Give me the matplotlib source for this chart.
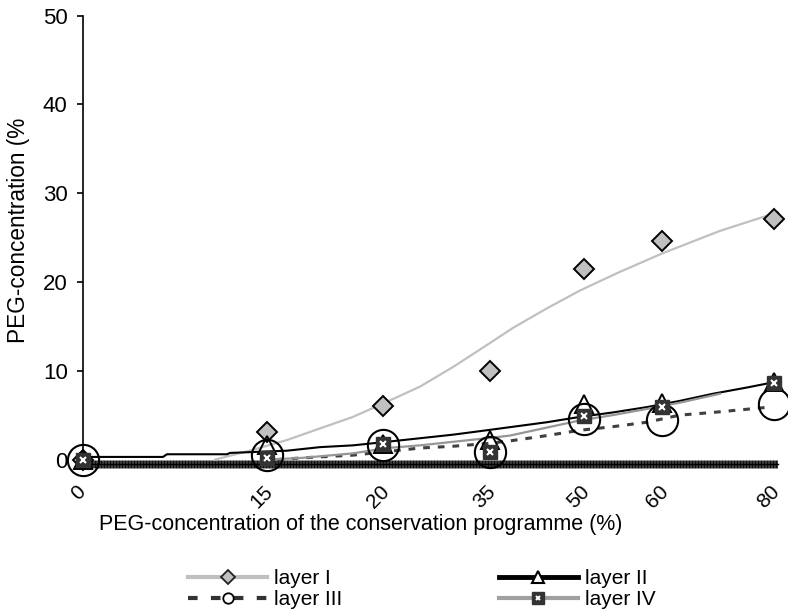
import matplotlib
matplotlib.use("Agg")
import matplotlib.pyplot as plt
from matplotlib.lines import Line2D
from matplotlib.ticker import MultipleLocator
from matplotlib.transforms import ScaledTranslation

plt.rcParams['font.family'] = ['Liberation Sans', 'DejaVu Sans']

# x positions of the programme steps on the (uneven) axis, and their labels
x_pos = [0, 184, 300, 407, 501, 579, 691]
x_labels = ['0', '15', '20', '35', '50', '60', '80']

# measured values (%)
layer_1 = [0, 3.2, 6.1, 10.0, 21.5, 24.7, 27.1]
layer_2 = [0, 1.7, 1.8, 2.3, 6.3, 6.5, 8.8]
layer_3 = [0, 0.6, 1.7, 0.9, 4.7, 4.5, 6.4]
layer_4 = [0, 0.3, 1.9, 0.9, 5.0, 6.0, 8.7]

# trend lines
trend1_x = [132, 170, 204, 237, 270, 304, 337, 370, 407, 430, 464, 497, 537, 580, 637, 695]
trend1_y = [0.1, 1.2, 2.3, 3.6, 4.9, 6.6, 8.3, 10.5, 13.2, 14.9, 17.1, 19.1, 21.2, 23.3, 25.8, 27.9]
trend2_x = [2, 80, 84, 144, 147, 204, 237, 270, 304, 337, 370, 404, 464, 497, 530, 564, 597, 630, 664, 691]
trend2_y = [0.4, 0.4, 0.7, 0.7, 0.85, 1.1, 1.5, 1.7, 2.1, 2.5, 2.9, 3.4, 4.3, 4.9, 5.4, 6.0, 6.7, 7.5, 8.2, 8.8]
trend3_x = [194, 220, 270, 304, 337, 370, 404, 427, 464, 497, 530, 564, 597, 630, 687]
trend3_y = [0.1, 0.3, 0.6, 1.0, 1.4, 1.6, 1.9, 2.2, 2.8, 3.4, 3.8, 4.3, 5.1, 5.4, 6.0]
trend4_x = [184, 220, 270, 304, 337, 370, 404, 427, 464, 497, 530, 564, 597, 637]
trend4_y = [0.1, 0.3, 0.8, 1.4, 1.7, 2.1, 2.5, 2.8, 3.7, 4.5, 5.1, 5.8, 6.5, 7.5]

fig = plt.figure(figsize=(7.88, 6.10), dpi=100)
ax = fig.add_axes([83 / 788, 1 - 463.6 / 610, 695 / 788, 448.1 / 610])

ax.plot(trend1_x, trend1_y, color='#c0c0c0', lw=1.6, zorder=2, clip_on=False)
ax.plot(trend2_x, trend2_y, color='black', lw=1.5, zorder=2, clip_on=False)
ax.plot(trend3_x, trend3_y, color='#404040', lw=2.2, dashes=(2.2, 2.6), zorder=2, clip_on=False)
ax.plot(trend4_x, trend4_y, color='#969696', lw=1.6, zorder=2, clip_on=False)

ax.plot(x_pos, layer_1, ls='none', marker='D', ms=10, mfc='#c0c0c0', mec='black', mew=1.4,
        zorder=4, clip_on=False)
ax.plot(x_pos, layer_2, ls='none', marker='^', ms=13, mfc='none', mec='black', mew=1.4,
        zorder=4, clip_on=False)
ax.plot(x_pos, layer_3, ls='none', marker='o', ms=22.5, mfc='none', mec='black', mew=1.5,
        zorder=4, clip_on=False)
ax.plot(x_pos, layer_4, ls='none', marker='s', ms=10, mfc='#333333', mec='#333333',
        zorder=5, clip_on=False)
ax.plot(x_pos, layer_4, ls='none', marker='x', ms=4, mec='white', mew=1.5,
        zorder=6, clip_on=False)

ax.set_xlim(0, 695)
ax.set_ylim(-0.35, 50)
ax.set_yticks(range(0, 51, 10))
ax.set_xticks(x_pos)
ax.set_xticklabels(x_labels, rotation=45, ha='center', va='top')
ax.xaxis.set_minor_locator(MultipleLocator(3))
ax.xaxis.remove_overlapping_locs = False

ax.spines['top'].set_visible(False)
ax.spines['right'].set_visible(False)
ax.spines['left'].set_linewidth(1.2)
ax.spines['bottom'].set_linewidth(1.0)

ax.tick_params(axis='y', direction='out', length=4, width=1.2, pad=7, labelsize=16)
ax.tick_params(axis='x', which='major', length=0, pad=13, labelsize=15)
ax.tick_params(axis='x', which='minor', direction='inout', length=5.5, width=1.9, color='#111111')

# nudge the rotated labels a little to the left, as in the original
shift = ScaledTranslation(-5 / 100, 0, fig.dpi_scale_trans)
for t in ax.xaxis.get_major_ticks():
    t.label1.set_transform(t.label1.get_transform() + shift)

ax.set_xlabel('PEG-concentration of the conservation programme (%)', fontsize=15.5)
ax.xaxis.set_label_coords(0.40, -0.137)
ax.xaxis.label.set_va('center')
ax.set_ylabel('PEG-concentration (%', fontsize=16.3)
ax.yaxis.set_label_coords(-0.0935, 0.52)
ax.yaxis.label.set_va('center')

h1 = Line2D([], [], color='#c0c0c0', lw=3, marker='D', ms=7, mfc='#c0c0c0', mec='#222222', mew=1.3)
h2 = Line2D([], [], color='black', lw=3.5, marker='^', ms=9, mfc='white', mec='black', mew=1.5)
h3 = Line2D([], [], color='#333333', lw=3, dashes=(2.3, 3.2), marker='o', ms=7.5, mfc='white',
            mec='black', mew=1.3)
h4a = Line2D([], [], color='#a0a0a0', lw=3, marker='s', ms=9, mfc='#333333', mec='#333333')
h4b = Line2D([], [], ls='none', marker='x', ms=3.5, mec='white', mew=1.4)

fig.legend([h1, h3, h2, (h4a, h4b)], ['layer I', 'layer III', 'layer II', 'layer IV'],
           loc='upper left', bbox_to_anchor=(188 / 788, 1 - 569 / 610), ncol=2,
           frameon=False, fontsize=15, handlelength=3.8, handletextpad=0.33,
           columnspacing=7.5, labelspacing=0.1, borderpad=0, borderaxespad=0)

fig.savefig('out.png', dpi=100, facecolor='white')
